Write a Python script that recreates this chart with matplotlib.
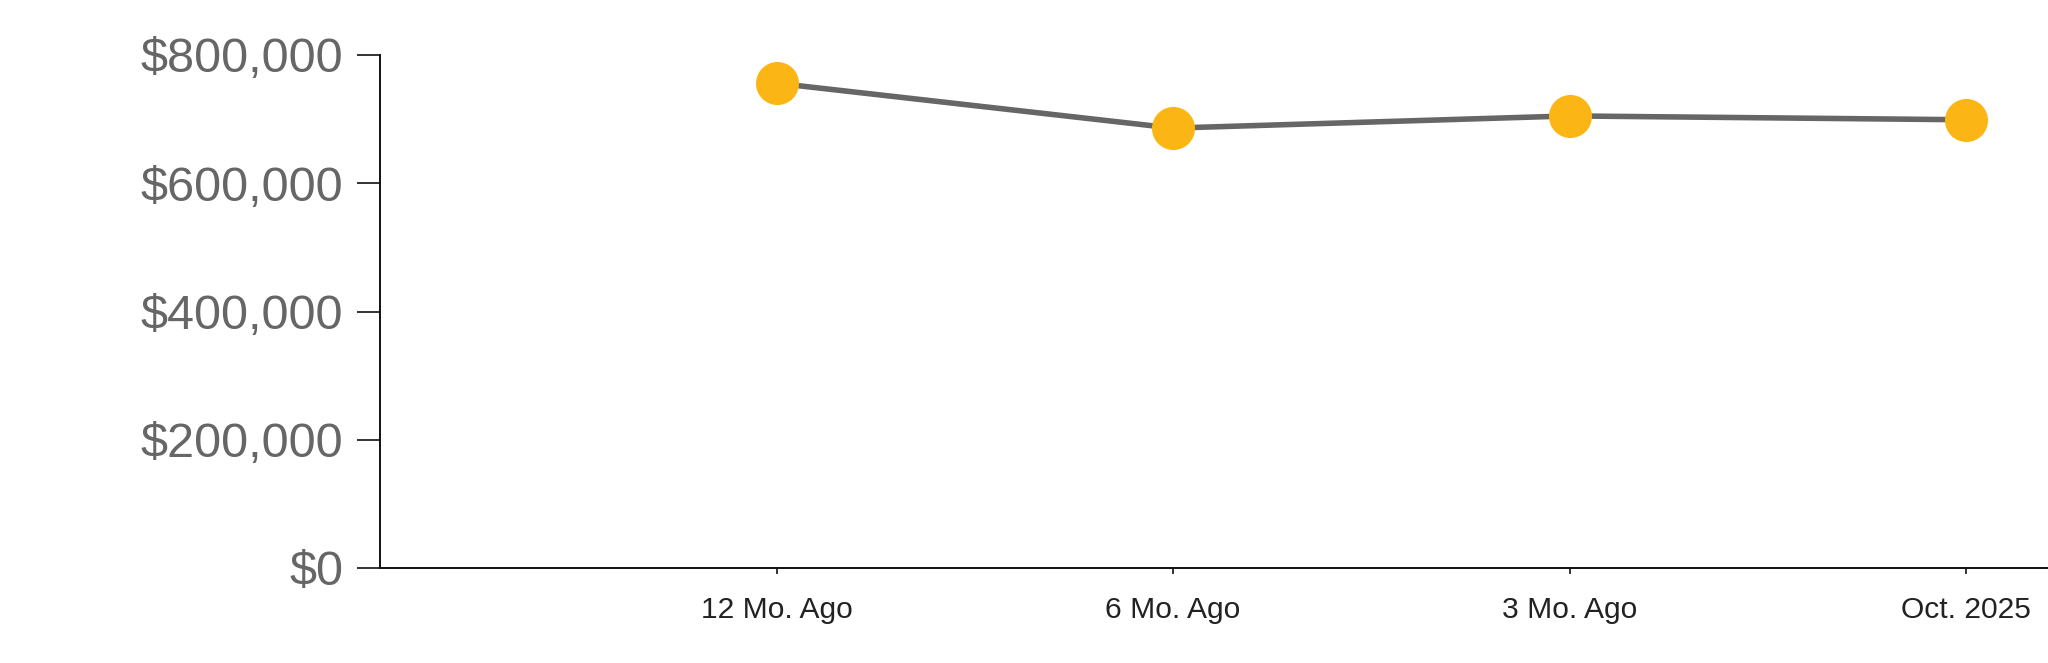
import numpy as np
import matplotlib.pyplot as plt

# datos
categorias = ["12 Mo. Ago", "6 Mo. Ago", "3 Mo. Ago", "Oct. 2025"]
valores = [756000, 686000, 705000, 699000]
y_ticks = [0, 200000, 400000, 600000, 800000]

plt.rcParams["font.family"] = ["Liberation Sans", "DejaVu Sans"]

fig = plt.figure(figsize=(20.48, 6.63), dpi=100)
ax = fig.add_axes([380 / 2048, 1 - 568 / 663, 1 - 380 / 2048, (568 - 55) / 663])

x = np.arange(1, len(categorias) + 1)
ax.plot(x, valores, color="#666666", lw=4.0, zorder=2, clip_on=False)
ax.plot(x, valores, "o", color="#FBB616", ms=31, mec="none", zorder=3, clip_on=False)

ax.set_xlim(0, (2048 - 380) / 396.5)
ax.set_ylim(0, 800000)
ax.set_xticks(x)
ax.set_xticklabels(categorias)
ax.set_yticks(y_ticks)
ax.set_yticklabels([f"${v:,.0f}" for v in y_ticks])

for s in ["top", "right"]:
    ax.spines[s].set_visible(False)
for s in ["left", "bottom"]:
    ax.spines[s].set_color("#111111")
    ax.spines[s].set_linewidth(1.4)

ax.tick_params(axis="y", length=16.5, width=1.2, pad=10, labelsize=35,
               labelcolor="#666666", color="#111111")
ax.tick_params(axis="x", length=4.5, width=1.2, pad=16, labelsize=21.6,
               labelcolor="#222222", color="#111111")

fig.savefig("out.png", dpi=100, facecolor="white")
